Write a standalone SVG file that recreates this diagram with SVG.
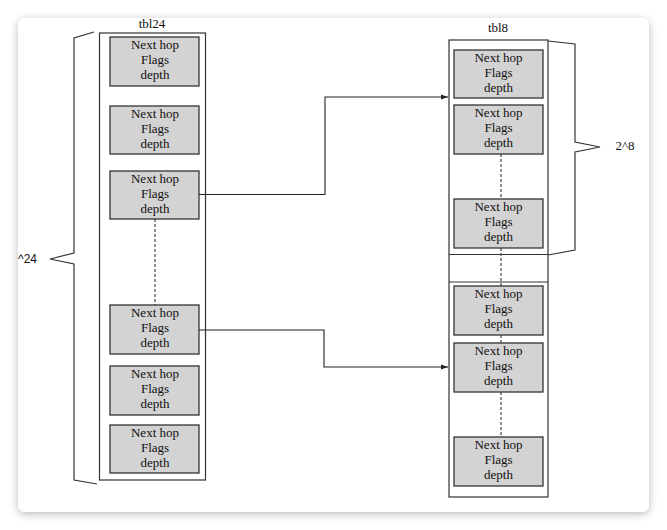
<svg xmlns="http://www.w3.org/2000/svg" width="667" height="530" viewBox="0 0 667 530">
<defs>
<filter id="sh" x="-10%" y="-10%" width="120%" height="120%">
<feDropShadow dx="0" dy="2" stdDeviation="4" flood-color="#000" flood-opacity="0.28"/>
</filter>
<marker id="arr" viewBox="0 0 10 10" refX="10" refY="5" markerWidth="7" markerHeight="7" markerUnits="userSpaceOnUse" orient="auto">
<path d="M0,1.5 L10,5 L0,8.5 Z" fill="#222"/>
</marker>
<style>
.cell{fill:#d3d3d3;stroke:#333;stroke-width:1.3}
.tbl{fill:none;stroke:#333;stroke-width:1.2}
.t{font-family:"Liberation Serif","Times New Roman",serif;font-size:13px;fill:#111;text-anchor:middle}
.s{font-family:"Liberation Sans",Arial,sans-serif;font-size:12px;fill:#111}
.line{fill:none;stroke:#222;stroke-width:1.1}
.dash{fill:none;stroke:#555;stroke-width:1.3;stroke-dasharray:3,2}
.brace{fill:none;stroke:#333;stroke-width:1.2}
</style>
</defs>
<rect x="0" y="0" width="667" height="530" fill="#fff"/>
<rect x="18" y="18" width="631" height="494" rx="7" fill="#fff" filter="url(#sh)"/>

<g id="tbl24">
<text class="t" x="152" y="28">tbl24</text>
<rect class="tbl" x="99.5" y="33" width="106" height="447"/>
<path class="brace" d="M94,32 L74,38 L74,253 L50,259 L74,264 L74,480 L97,484"/>
<text class="s" x="18" y="263">^24</text>
<path class="dash" d="M155,219 V305"/>
</g>
<g id="tbl24-e1"><rect class="cell" x="110" y="37" width="89" height="49"/><text class="t" x="155" y="49">Next hop</text><text class="t" x="155" y="64">Flags</text><text class="t" x="155" y="79">depth</text></g>
<g id="tbl24-e2"><rect class="cell" x="110" y="106" width="89" height="48"/><text class="t" x="155" y="118">Next hop</text><text class="t" x="155" y="133">Flags</text><text class="t" x="155" y="148">depth</text></g>
<g id="tbl24-e3"><rect class="cell" x="110" y="171" width="89" height="48"/><text class="t" x="155" y="183">Next hop</text><text class="t" x="155" y="198">Flags</text><text class="t" x="155" y="213">depth</text></g>
<g id="tbl24-e4"><rect class="cell" x="110" y="305" width="89" height="49"/><text class="t" x="155" y="317">Next hop</text><text class="t" x="155" y="332">Flags</text><text class="t" x="155" y="347">depth</text></g>
<g id="tbl24-e5"><rect class="cell" x="110" y="366" width="89" height="49"/><text class="t" x="155" y="378">Next hop</text><text class="t" x="155" y="393">Flags</text><text class="t" x="155" y="408">depth</text></g>
<g id="tbl24-e6"><rect class="cell" x="110" y="425" width="89" height="48"/><text class="t" x="155" y="437">Next hop</text><text class="t" x="155" y="452">Flags</text><text class="t" x="155" y="467">depth</text></g>

<g id="tbl8">
<text class="t" x="498" y="32">tbl8</text>
<rect class="tbl" x="449" y="40" width="99" height="457"/>
<path class="tbl" d="M449,254.5 H548 M449,282 H548"/>
<path class="brace" d="M548,41 L575,44 L575,142 L600,147 L575,152 L575,250 L548,255"/>
<text class="t" x="625" y="150">2^8</text>
<path class="dash" d="M501,154 V199 M501,248 V286 M501,335 V343 M501,392 V437"/>
</g>
<g id="tbl8-e1"><rect class="cell" x="454" y="50" width="89" height="48"/><text class="t" x="498.5" y="62">Next hop</text><text class="t" x="498.5" y="77">Flags</text><text class="t" x="498.5" y="92">depth</text></g>
<g id="tbl8-e2"><rect class="cell" x="454" y="105" width="89" height="49"/><text class="t" x="498.5" y="117">Next hop</text><text class="t" x="498.5" y="132">Flags</text><text class="t" x="498.5" y="147">depth</text></g>
<g id="tbl8-e3"><rect class="cell" x="454" y="199" width="89" height="49"/><text class="t" x="498.5" y="211">Next hop</text><text class="t" x="498.5" y="226">Flags</text><text class="t" x="498.5" y="241">depth</text></g>
<g id="tbl8-e4"><rect class="cell" x="454" y="286" width="89" height="49"/><text class="t" x="498.5" y="298">Next hop</text><text class="t" x="498.5" y="313">Flags</text><text class="t" x="498.5" y="328">depth</text></g>
<g id="tbl8-e5"><rect class="cell" x="454" y="343" width="89" height="49"/><text class="t" x="498.5" y="355">Next hop</text><text class="t" x="498.5" y="370">Flags</text><text class="t" x="498.5" y="385">depth</text></g>
<g id="tbl8-e6"><rect class="cell" x="454" y="437" width="89" height="49"/><text class="t" x="498.5" y="449">Next hop</text><text class="t" x="498.5" y="464">Flags</text><text class="t" x="498.5" y="479">depth</text></g>

<g id="connectors">
<path class="line" d="M199,194.5 H325 V97 H448" marker-end="url(#arr)"/>
<path class="line" d="M199,330 H324 V367 H448" marker-end="url(#arr)"/>
</g>
</svg>
